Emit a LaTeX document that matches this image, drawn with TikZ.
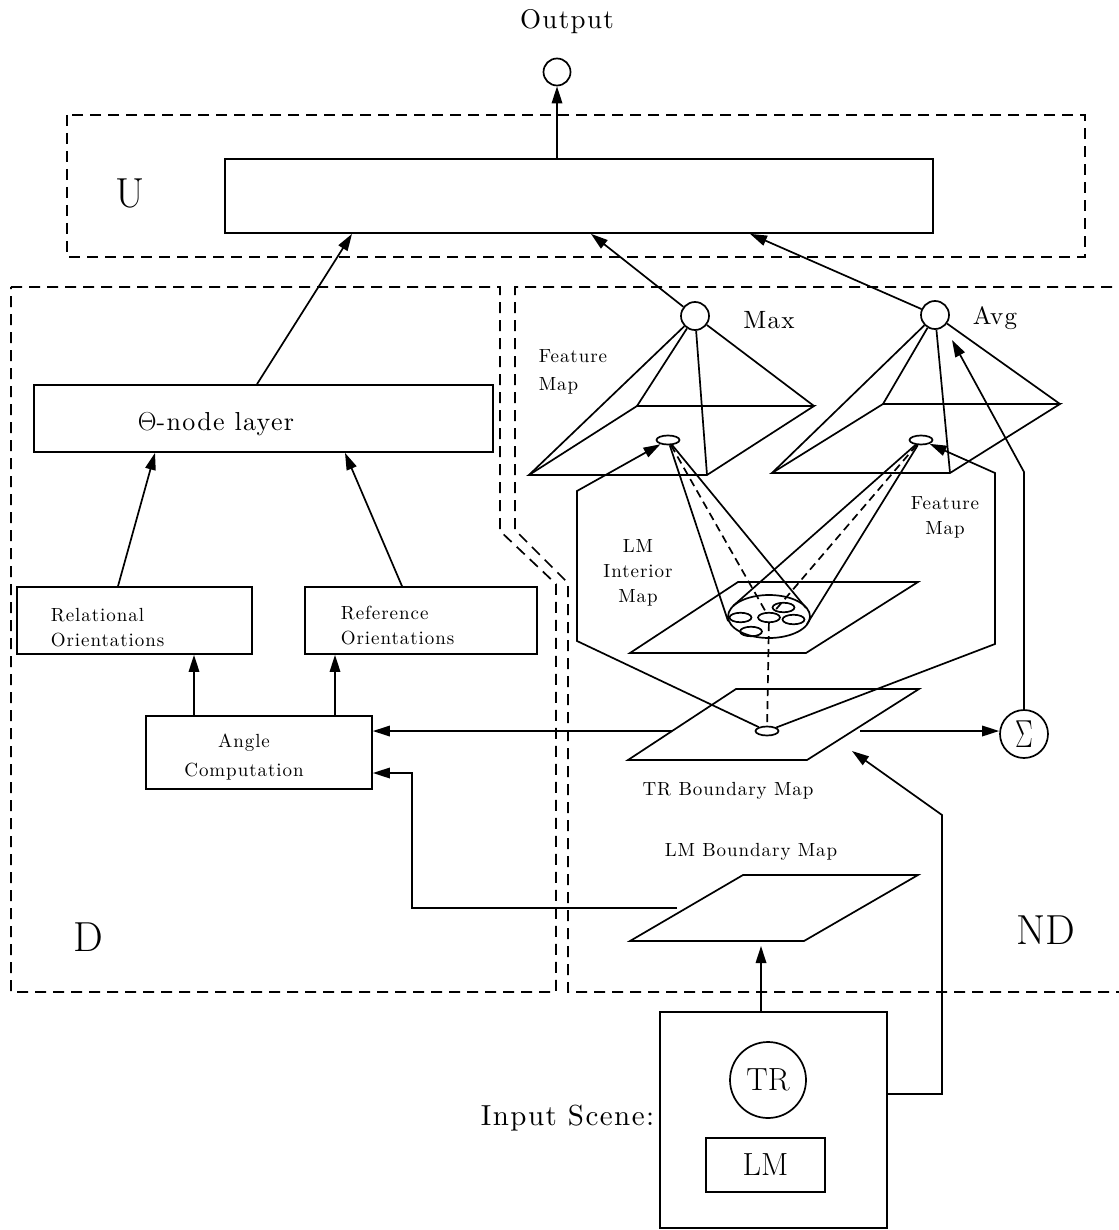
\RequirePackage{fix-cm}
\documentclass[tikz,border=0pt]{standalone}
\usepackage[no-math]{fontspec}
\newfontfamily\spacedlm{lmroman10-regular.otf}[LetterSpace=5]
\usetikzlibrary{arrows.meta,shapes.geometric,calc}

\begin{document}
\begin{tikzpicture}[x=1pt,y=-1pt,line width=1.7pt,
  arr/.style={-{Triangle[length=17pt,width=10.5pt]}},
  region/.style={dash pattern=on 11pt off 7pt},
  hidden/.style={dash pattern=on 8pt off 5pt},
  box/.style={draw,rectangle,inner sep=0pt},
  unit/.style={draw,circle,inner sep=0pt},
  spot/.style={draw,ellipse,inner sep=0pt,minimum width=23pt,minimum height=9pt},
  blob/.style={draw,ellipse,inner sep=0pt,minimum width=22pt,minimum height=9.5pt},
  bigtxt/.style={inner sep=0pt,font=\fontsize{42}{46}\selectfont},
  ttltxt/.style={inner sep=0pt,font=\spacedlm\fontsize{27}{30}\selectfont},
  midtxt/.style={inner sep=0pt,font=\spacedlm\fontsize{26}{30}\selectfont},
  smltxt/.style={inner sep=0pt,font=\spacedlm\fontsize{19}{25}\selectfont},
  inptxt/.style={inner sep=0pt,font=\spacedlm\fontsize{29}{34}\selectfont},
  symtxt/.style={font=\fontsize{39}{42}\selectfont}]

\useasboundingbox (0,0) rectangle (1118,1230);

% ---------- output unit ----------
\node[unit,minimum size=27pt] (out) at (557,72) {};
\node[ttltxt] (outlab) at (567,22) {Output};

% ---------- region U ----------
\draw[region] (67,115) rectangle (1085,257);
\node[box,minimum width=708pt,minimum height=74pt] (ubox) at (579,196) {};
\node[bigtxt] (ulab) at (130,193) {U};
\draw[arr] (ubox.north -| out) -- (out);

% ---------- regions D and ND ----------
\draw[region] (11,287) -- (500,287) -- (500,531) -- (556,584) -- (556,992) -- (11,992) -- cycle;
\draw[region] (1130,287) -- (515,287) -- (515,530) -- (568,583) -- (568,992) -- (1130,992);
\node[bigtxt] (dlab) at (88,937) {D};
\node[bigtxt] (ndlab) at (1046,930) {ND};

% ---------- D side ----------
\node[box,minimum width=459pt,minimum height=67pt] (theta) at (263.5,418.5) {};
\node[midtxt] (thetalab) at (216,424) {$\Theta$-node layer};
\draw[arr] ([xshift=-6.5pt]theta.north) -- ([xshift=-227pt]ubox.south);

\node[box,minimum width=235pt,minimum height=67pt] (rel) at (134.5,620.5) {};
\node[smltxt,align=left,anchor=west] (rellab) at (50,628) {Relational\\Orientations};
\node[box,minimum width=232pt,minimum height=67pt] (ref) at (421,620.5) {};
\node[smltxt,align=left,anchor=west] (reflab) at (340,626) {Reference\\Orientations};
\draw[arr] ([xshift=-16.5pt]rel.north) -- ([xshift=-108.5pt]theta.south);
\draw[arr] ([xshift=-19pt]ref.north) -- ([xshift=81.5pt]theta.south);

\node[box,minimum width=226pt,minimum height=73pt] (ang) at (259,752.5) {};
\node[smltxt,align=center,font=\spacedlm\fontsize{19}{29}\selectfont] (anglab) at (244,757) {Angle\\Computation};
\coordinate (angA) at ([xshift=-65pt]ang.north);
\coordinate (angB) at ([xshift=76pt]ang.north);
\draw[arr] (angA) -- (angA |- rel.south);
\draw[arr] (angB) -- (angB |- ref.south);

% ---------- TR boundary map ----------
\coordinate (trbl) at (628,760);
\coordinate (trbr) at (807,760);
\coordinate (trtr) at (919,689);
\coordinate (trtl) at (736,689);
\draw (trbl) -- (trbr) -- (trtr) -- (trtl) -- cycle;
\node[spot] (trE) at (767,731) {};
\node[smltxt] (trlab) at (728,791) {TR Boundary Map};
\coordinate (trL) at ($(trbl)!0.408!(trtl)$);
\draw[arr] (trL) -- (trL -| ang.east);

% ---------- summation unit ----------
\node[unit,minimum size=48pt,symtxt] (sig) at (1024,734) {\scalebox{0.68}[1]{$\Sigma$}};
\coordinate (trR) at (860,731);
\draw[arr] (trR) -- (trR -| sig.west);
\coordinate (sigup) at (1024,472);
\coordinate (avgin) at (952,340);
\draw[arr] (sig.north) -- (sigup) -- (avgin);

% ---------- LM boundary map ----------
\coordinate (lmbl) at (630,941);
\coordinate (lmbr) at (804,941);
\coordinate (lmtr) at (918,875);
\coordinate (lmtl) at (743,875);
\draw (lmbl) -- (lmbr) -- (lmtr) -- (lmtl) -- cycle;
\node[smltxt] (lmlab) at (751,852) {LM Boundary Map};
\coordinate (lmL) at (677,908);
\coordinate (angin) at ([yshift=-20.5pt]ang.east);
\draw[arr] (lmL) -- ++(-265,0) -- ++(0,-135) -- (angin);

% ---------- input scene ----------
\node[box,minimum width=227pt,minimum height=216pt] (inp) at (773.5,1120) {};
\node[unit,minimum size=76pt,font=\fontsize{32}{36}\selectfont] (tr) at (768,1080) {TR};
\node[box,minimum width=119pt,minimum height=54pt,font=\fontsize{32}{36}\selectfont] (lm) at (765.5,1165) {LM};
\node[inptxt,anchor=east] (inplab) at (655,1118) {Input Scene:};
\coordinate (inpup) at ([xshift=-12.5pt]inp.north);
\coordinate (lmin) at (761,946);
\draw[arr] (inpup) -- (lmin);
\coordinate (inpout) at ([yshift=26pt]inp.east);
\coordinate (trin) at (852,751);
\draw[arr] (inpout) -- (942,1094) -- (942,815) -- (trin);

% ---------- Max feature map ----------
\node[unit,minimum size=28pt] (maxc) at (695,316) {};
\node[ttltxt,font=\spacedlm\fontsize{25}{30}\selectfont] (maxlab) at (769,320) {Max};
\coordinate (mbl) at (529,475);
\coordinate (mbr) at (707,475);
\coordinate (mtr) at (814,406);
\coordinate (mtl) at (637,406);
\draw (mbl) -- (mbr) -- (mtr) -- (mtl) -- cycle;
\draw (maxc) -- (mbl);
\draw (maxc) -- (mtl);
\draw (maxc) -- (mbr);
\draw (maxc) -- (mtr);
\node[spot] (mxe) at (668,440) {};
\node[smltxt,align=left,anchor=west,font=\spacedlm\fontsize{19}{28}\selectfont] (fmlab1) at (538,372) {Feature\\Map};
\draw[arr] (maxc) -- ([xshift=12pt]ubox.south);

% ---------- Avg feature map ----------
\node[unit,minimum size=28pt] (avgc) at (935,315) {};
\node[ttltxt,font=\spacedlm\fontsize{25}{30}\selectfont] (avglab) at (995,318) {Avg};
\coordinate (abl) at (772,473);
\coordinate (abr) at (950,473);
\coordinate (atr) at (1060,404);
\coordinate (atl) at (883,404);
\draw (abl) -- (abr) -- (atr) -- (atl) -- cycle;
\draw (avgc) -- (abl);
\draw (avgc) -- (atl);
\draw (avgc) -- (abr);
\draw (avgc) -- (atr);
\node[spot] (ave) at (921,440) {};
\node[smltxt,align=center] (fmlab2) at (945,517) {Feature\\Map};
\draw[arr] (avgc) -- ([xshift=171pt]ubox.south);

% ---------- LM interior map ----------
\draw (630,653) -- (806,653) -- (918,582) -- (738,582) -- cycle;
\node[draw,ellipse,inner sep=0pt,minimum width=82pt,minimum height=43pt] (pool) at (769,616.5) {};
\node[blob] (s1) at (740.5,617.5) {};
\node[blob] (s2) at (769,617.5) {};
\node[blob] (s3) at (783.5,607.5) {};
\node[blob] (s4) at (793.5,619.5) {};
\node[blob] (s5) at (751,631.5) {};
\node[smltxt,align=center] (lmilab) at (638,573) {LM\\Interior\\Map};

% receptive cones
\draw (mxe) -- (728,621);
\draw (mxe) -- (806,608);
\draw[hidden] (mxe) -- (s2);
\draw (ave) -- (733,606);
\draw (ave) -- (807,624);
\draw[hidden] (ave) -- (s2);
\draw[hidden] (s2) -- (trE);

% feedback outline around the interior map
\draw[arr] (trE) -- (577,641) -- (577,491) -- (mxe);
\draw[arr] (trE) -- (995,644) -- (995,473) -- (ave);

\end{tikzpicture}
\end{document}
